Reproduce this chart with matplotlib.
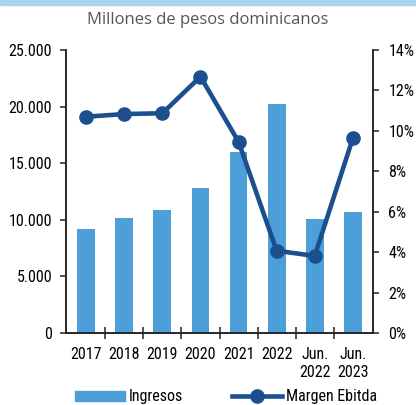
import matplotlib
matplotlib.use('Agg')
import matplotlib.pyplot as plt
import matplotlib.ticker as mticker
from matplotlib.lines import Line2D
from matplotlib.patches import Patch

periodos = ['2017', '2018', '2019', '2020', '2021', '2022', 'Jun.\n2022', 'Jun.\n2023']
ingresos = [9150, 10130, 10840, 12780, 16000, 20250, 10070, 10720]
margen_ebitda = [10.7, 10.83, 10.87, 12.68, 9.46, 4.07, 3.81, 9.63]

COLOR_BARRA = '#4d9fd9'
COLOR_LINEA = '#1b4f8e'
TAM = 11.5

plt.rcParams['font.family'] = ['Roboto Condensed', 'DejaVu Sans']

fig = plt.figure(figsize=(4.16, 4.05), dpi=100)
ax = fig.add_axes([0.1587, 0.1778, 0.7379, 0.6988])
ax2 = ax.twinx()

x = list(range(len(periodos)))
ax.bar(x, ingresos, width=0.47, color=COLOR_BARRA, zorder=2)
ax2.plot(x, margen_ebitda, color=COLOR_LINEA, linewidth=3.3, marker='o',
         markersize=9.5, zorder=3)

ax.set_xlim(-0.53, len(periodos) - 0.47)
ax.set_ylim(0, 25000)
ax2.set_ylim(0, 14)

ax.yaxis.set_major_locator(mticker.MultipleLocator(5000))
ax.yaxis.set_major_formatter(mticker.FuncFormatter(lambda v, p: f'{int(v):,}'.replace(',', '.')))
ax2.yaxis.set_major_locator(mticker.MultipleLocator(2))
ax2.yaxis.set_major_formatter(mticker.FuncFormatter(lambda v, p: f'{int(v)}%'))

# etiquetas en el centro, marcas en los limites de cada categoria
ax.set_xticks(x)
ax.set_xticklabels(periodos, linespacing=1.25)
ax.set_xticks([i + 0.5 for i in x[:-1]], minor=True)
ax.tick_params(axis='x', which='major', length=0, pad=10, labelsize=TAM)
ax.tick_params(axis='x', which='minor', length=9, direction='inout', width=1.1, color='#222222')
ax.tick_params(axis='y', length=4, width=1.1, pad=6, labelsize=TAM, color='#222222')
ax2.tick_params(axis='y', length=4, width=1.1, pad=7, labelsize=TAM, color='#222222')

for a in (ax, ax2):
    a.spines['top'].set_visible(False)
    for s in ('left', 'right', 'bottom'):
        a.spines[s].set_linewidth(1.1)
        a.spines[s].set_color('#222222')

fig.text(0.5, 1 - 20 / 405, 'Millones de pesos dominicanos', ha='center', va='center',
         fontsize=12, color='#555555', family='Open Sans')

# franja superior
fig.patches.append(plt.Rectangle((0, 1 - 5 / 405), 1, 5 / 405, transform=fig.transFigure,
                                 color='#a9d3ee', zorder=0))

handles = [Patch(color=COLOR_BARRA),
           Line2D([], [], color=COLOR_LINEA, linewidth=3.3, marker='o', markersize=9.5)]
fig.legend(handles, ['Ingresos', 'Margen Ebitda'], ncol=2, frameon=False,
           loc='center left', bbox_to_anchor=(75 / 416, 1 - 397 / 405),
           borderpad=0, borderaxespad=0, handlelength=3.1, handleheight=0.55,
           handletextpad=0.25, columnspacing=3.1, fontsize=TAM)

fig.savefig('out.png', dpi=100)
